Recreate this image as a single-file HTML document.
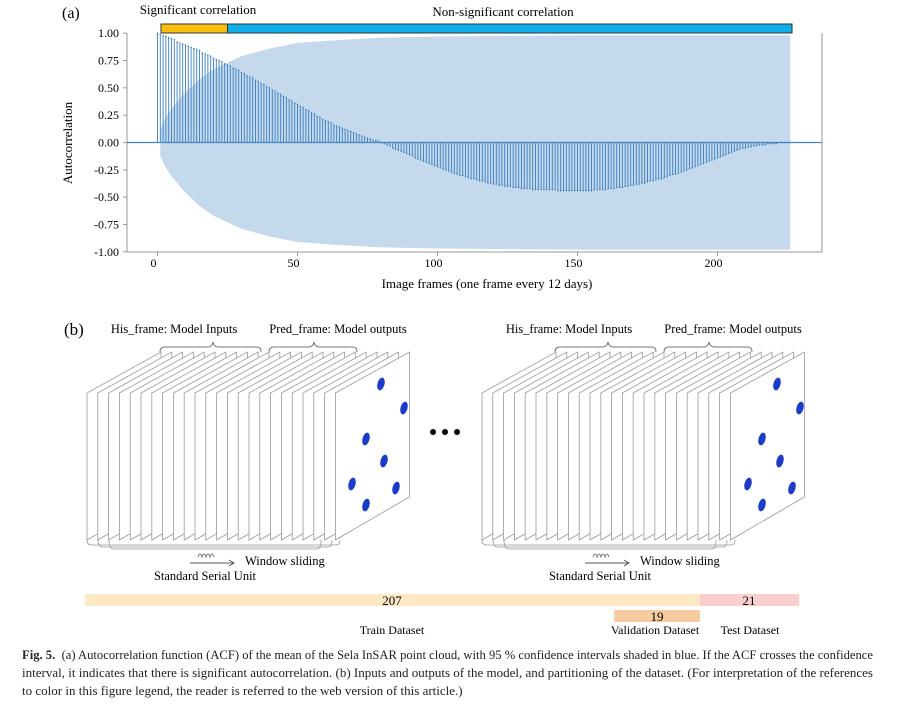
<!DOCTYPE html>
<html><head><meta charset="utf-8">
<style>
body{margin:0;width:902px;height:706px;background:#fff;overflow:hidden;font-family:"Liberation Serif",serif;}
svg text{font-family:"Liberation Serif",serif;}
.cap{position:absolute;left:22px;font-size:12.5px;white-space:nowrap;transform-origin:0 0;color:#222;}
</style></head><body>
<svg id="s" width="902" height="706" style="position:absolute;left:0;top:0">
<g id="chartA"></g>
<g id="panelB"></g>
</svg>
<div class="cap" style="top:648px"><b>Fig. 5.</b>&nbsp; (a) Autocorrelation function (ACF) of the mean of the Sela InSAR point cloud, with 95 % confidence intervals shaded in blue. If the ACF crosses the confidence</div>
<div class="cap" style="top:666px">interval, it indicates that there is significant autocorrelation. (b) Inputs and outputs of the model, and partitioning of the dataset. (For interpretation of the references</div>
<div class="cap" style="top:684px">to color in this figure legend, the reader is referred to the web version of this article.)</div>
<script>
const acfValues=[1.00,0.99,0.98,0.97,0.96,0.95,0.94,0.92,0.91,0.90,
0.89,0.88,0.87,0.86,0.85,0.84,0.82,0.81,0.80,0.79,
0.77,0.76,0.75,0.74,0.72,0.71,0.70,0.68,0.67,0.66,
0.64,0.63,0.61,0.60,0.59,0.57,0.56,0.54,0.53,0.51,
0.50,0.48,0.47,0.45,0.44,0.42,0.41,0.39,0.38,0.36,
0.35,0.33,0.32,0.30,0.29,0.27,0.26,0.24,0.23,0.21,
0.20,0.19,0.18,0.16,0.15,0.14,0.13,0.12,0.11,0.10,
0.09,0.08,0.07,0.06,0.05,0.04,0.03,0.02,0.02,0.01,0.00,
-0.01,-0.02,-0.03,-0.05,-0.06,-0.07,-0.08,-0.09,-0.10,-0.11,
-0.12,-0.14,-0.15,-0.16,-0.17,-0.18,-0.19,-0.20,-0.21,-0.22,
-0.23,-0.24,-0.25,-0.26,-0.27,-0.28,-0.29,-0.30,-0.30,-0.31,
-0.32,-0.33,-0.33,-0.34,-0.35,-0.35,-0.36,-0.37,-0.37,-0.38,
-0.38,-0.39,-0.39,-0.40,-0.40,-0.40,-0.41,-0.41,-0.41,-0.42,
-0.42,-0.42,-0.42,-0.43,-0.43,-0.43,-0.43,-0.43,-0.43,-0.43,
-0.43,-0.43,-0.44,-0.44,-0.44,-0.44,-0.44,-0.44,-0.44,-0.44,
-0.44,-0.44,-0.44,-0.44,-0.44,-0.43,-0.43,-0.43,-0.43,-0.43,
-0.42,-0.42,-0.42,-0.41,-0.41,-0.41,-0.40,-0.40,-0.39,-0.39,
-0.38,-0.38,-0.37,-0.37,-0.36,-0.35,-0.35,-0.34,-0.33,-0.33,
-0.32,-0.31,-0.30,-0.29,-0.29,-0.28,-0.27,-0.26,-0.25,-0.24,
-0.23,-0.22,-0.21,-0.20,-0.19,-0.18,-0.17,-0.16,-0.15,-0.14,
-0.13,-0.12,-0.11,-0.10,-0.09,-0.08,-0.07,-0.06,-0.05,-0.05,
-0.04,-0.04,-0.03,-0.03,-0.02,-0.02,-0.02,-0.01,-0.01,-0.01,
-0.01,0.00,0.00,0.00,0.00,0.00];
const bandLags=[1,2,3,5,8,10,15,20,30,40,50,60,80,100,150,226];
const bandVals=[0.12,0.18,0.23,0.31,0.40,0.46,0.58,0.67,0.79,0.86,0.91,0.93,0.96,0.97,0.98,0.98];
const xTicks=[0,50,100,150,200];
const yTicks=[1.00,0.75,0.50,0.25,0.00,-0.25,-0.50,-0.75,-1.00];
const yTickLabels=["1.00","0.75","0.50","0.25","0.00","-0.25","-0.50","-0.75","-1.00"];
const sigLagEnd=25;
const datasetCounts=[207,19,21];

const NS="http://www.w3.org/2000/svg";
function mk(p,tag,attrs,txt){const e=document.createElementNS(NS,tag);for(const k in attrs)e.setAttribute(k,attrs[k]);if(txt!==undefined)e.textContent=txt;p.appendChild(e);return e;}
const X=l=>157.5+l*2.8, Y=v=>142.5-v*109.3;
const A=document.getElementById('chartA');
let pts=bandLags.map((l,i)=>X(l)+','+Y(bandVals[i]));
pts=pts.concat(bandLags.slice().reverse().map((l,i)=>X(l)+','+Y(-bandVals[bandLags.length-1-i])));
let band=mk(A,'polygon',{points:pts.join(' '),fill:'#c5d9ec'});


let fr=mk(A,'path',{d:'M127,33 V252 H822 V33',fill:'none',stroke:'#999','stroke-width':1});


let zl=mk(A,'line',{x1:127,x2:822,y1:Y(0),y2:Y(0),stroke:'#4a86c0','stroke-width':1.2});


acfValues.forEach((v,i)=>{const l=mk(A,'line',{x1:X(i),x2:X(i),y1:Y(0),y2:Y(v),stroke:'#3a7ebf','stroke-width':0.9});


const c=mk(A,'circle',{cx:X(i),cy:Y(v),r:0.8,fill:'#3a7ebf'});

});
xTicks.forEach(t=>{mk(A,'line',{x1:X(t),x2:X(t),y1:252,y2:256,stroke:'#999'});
const tx=mk(A,'text',{x:X(t)-4,y:267,'text-anchor':'middle','font-size':12},t);

});
yTicks.forEach((t,i)=>{mk(A,'line',{x1:123,x2:127,y1:Y(t),y2:Y(t),stroke:'#999'});
const tx=mk(A,'text',{x:119,y:Y(t)+4,'text-anchor':'end','font-size':12},yTickLabels[i]);

});
let xl=mk(A,'text',{x:487,y:288,'text-anchor':'middle','font-size':13},'Image frames (one frame every 12 days)');

let yl=mk(A,'text',{x:0,y:0,'text-anchor':'middle','font-size':13,transform:'translate(72,143) rotate(-90)'},'Autocorrelation');

let pa=mk(A,'text',{x:62,y:18,'font-size':16},'(a)');

let ob=mk(A,'rect',{x:161,y:24,width:X(sigLagEnd)-161,height:9,fill:'#fbbf0c',stroke:'#333','stroke-width':1});

let bb=mk(A,'rect',{x:X(sigLagEnd),y:24,width:792-X(sigLagEnd),height:9,fill:'#0eb0ec',stroke:'#333','stroke-width':1});

let st=mk(A,'text',{x:198,y:14,'text-anchor':'middle','font-size':13},'Significant  correlation');

let nt=mk(A,'text',{x:503,y:16,'text-anchor':'middle','font-size':13},'Non-significant  correlation');


const B=document.getElementById('panelB');
let pb=mk(B,'text',{x:64,y:335,'font-size':17},'(b)');

function stack(ox,dots){
 const g=mk(B,'g',{transform:'translate('+ox+',0)'});
 
 
 for(let i=0;i<24;i++){const x=87+i*10.8;
  const p=mk(g,'polygon',{points:`${x},393 ${x+74},352 ${x+74},497 ${x},540`,fill:'#fff',stroke:'#999','stroke-width':0.8});
  
  }
 dots.forEach(d=>{const e=mk(g,'ellipse',{cx:d[0],cy:d[1],rx:3.5,ry:6.5,fill:'#1a3cc8',transform:`rotate(15 ${d[0]} ${d[1]})`});
  });
 mk(g,'path',{d:'M160,352 q0,-5 5,-5 h43 q4,0 5,-5 q1,5 5,5 h39 q4,0 4,5',fill:'none',stroke:'#777'});
 mk(g,'path',{d:'M269,352 q0,-5 5,-5 h35 q4,0 5,-5 q1,5 5,5 h34 q4,0 4,5',fill:'none',stroke:'#777'});
 mk(g,'path',{d:'M87,540 q0,5 5,5 h244 q4,0 4,-5 M98,540 q0,7 5,7 h225 q4,0 4,-7 M109,540 q0,9 5,9 h203 q4,0 4,-9',fill:'none',stroke:'#999','stroke-width':0.8});
 mk(g,'path',{d:'M198,557 q2,-6 4,0 q2,-6 4,0 q2,-6 4,0 q2,-6 4,0',fill:'none',stroke:'#777'});
 mk(g,'path',{d:'M190,563 h43 M229,560 l5,3 l-5,3',fill:'none',stroke:'#555'});
 const t1=mk(g,'text',{x:245,y:565,'font-size':12.5},'Window sliding');
 
 const t2=mk(g,'text',{x:205,y:580,'text-anchor':'middle','font-size':12.5},'Standard  Serial  Unit');
 
 const t3=mk(g,'text',{x:174,y:333,'text-anchor':'middle','font-size':12.5},'His_frame:  Model Inputs');
 
 const t4=mk(g,'text',{x:338,y:333,'text-anchor':'middle','font-size':12.5},'Pred_frame:  Model outputs');
 
}
const dotsL=[[381,384],[404,408],[366,439],[384,461],[352,484],[396,488],[366,505]];
stack(0,dotsL);
stack(395,dotsL.map(d=>[d[0]+1,d[1]]));
[433,445,457].forEach(x=>{const c=mk(B,'circle',{cx:x,cy:432,r:3,fill:'#000'});});
// dataset bars (train/validation share one scale; test bar drawn at its own scale as in the figure)
const trainScale=(700-85)/datasetCounts[0];
const testScale=99/datasetCounts[2];
const trainEnd=85+datasetCounts[0]*trainScale;
let tr=mk(B,'rect',{x:85,y:594,width:datasetCounts[0]*trainScale,height:12,fill:'#fde9c6'});

let te=mk(B,'rect',{x:trainEnd,y:594,width:datasetCounts[2]*testScale,height:12,fill:'#f9d0cf'});

const valW=datasetCounts[1]*trainScale*1.52;
let va=mk(B,'rect',{x:trainEnd-valW,y:610,width:valW,height:12,fill:'#f8caa2'});

[[392,605,datasetCounts[0]],[657,621,datasetCounts[1]],[749,605,datasetCounts[2]]].forEach(a=>{const t=mk(B,'text',{x:a[0],y:a[1],'text-anchor':'middle','font-size':13},a[2]);});
[[392,'Train Dataset'],[655,'Validation Dataset'],[750,'Test Dataset']].forEach(a=>{const t=mk(B,'text',{x:a[0],y:634,'text-anchor':'middle','font-size':12},a[1]);});
// fit caption lines
const caps=document.querySelectorAll('.cap');
const s1=851/caps[0].getBoundingClientRect().width;
const s2=851/caps[1].getBoundingClientRect().width;
caps[0].style.transform='scaleX('+s1+')';
caps[1].style.transform='scaleX('+s2+')';
caps[2].style.transform='scaleX('+s2+')';
</script>
</body></html>
